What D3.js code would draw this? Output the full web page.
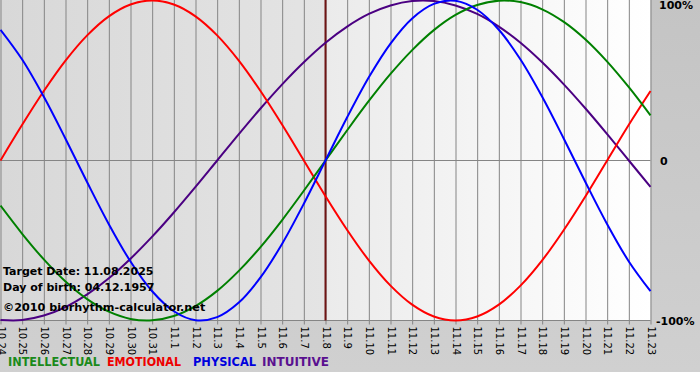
<!DOCTYPE html>
<html><head><meta charset="utf-8">
<script src="https://cdn.jsdelivr.net/npm/d3@7"></script>
<style>html,body{margin:0;padding:0;background:#fff;}svg{display:block;}</style>
</head><body>
<script>
const days = ["10.24","10.25","10.26","10.27","10.28","10.29","10.30","10.31","11.1","11.2","11.3","11.4","11.5","11.6","11.7","11.8","11.9","11.10","11.11","11.12","11.13","11.14","11.15","11.16","11.17","11.18","11.19","11.20","11.21","11.22","11.23"];
const targetDay = "11.8";
const physical = [0.817,0.631,0.398,0.136,-0.136,-0.398,-0.631,-0.817,-0.942,-0.998,-0.979,-0.888,-0.731,-0.520,-0.270,0,0.270,0.520,0.731,0.888,0.979,0.998,0.942,0.817,0.631,0.398,0.136,-0.136,-0.398,-0.631,-0.817];
const emotional = [0,0.223,0.434,0.624,0.782,0.901,0.975,1,0.975,0.901,0.782,0.624,0.434,0.223,0,-0.223,-0.434,-0.624,-0.782,-0.901,-0.975,-1,-0.975,-0.901,-0.782,-0.624,-0.434,-0.223,0,0.223,0.434];
const intellectual = [-0.282,-0.458,-0.618,-0.756,-0.866,-0.945,-0.990,-0.999,-0.972,-0.910,-0.815,-0.690,-0.541,-0.372,-0.189,0,0.189,0.372,0.541,0.690,0.815,0.910,0.972,0.999,0.990,0.945,0.866,0.756,0.618,0.458,0.282];
const intuitive = [-0.997,-0.997,-0.969,-0.916,-0.837,-0.736,-0.614,-0.476,-0.325,-0.165,0,0.165,0.325,0.476,0.614,0.736,0.837,0.916,0.969,0.997,0.997,0.969,0.916,0.837,0.736,0.614,0.476,0.325,0.165,0,-0.165];
const yTicks = [1, 0, -1];
const yTickLabels = ["100%", "0", "-100%"];
const seriesNames = ["INTELLECTUAL","EMOTIONAL","PHYSICAL","INTUITIVE"];
const infoLines = ["Target Date: 11.08.2025","Day of birth: 04.12.1957","\u00a92010 biorhythm-calculator.net"];

const W = 700, H = 380;
const svg = d3.select("body").append("svg").attr("width", W).attr("height", H);
const defs = svg.append("defs");
function grad(id, c1, c2, vertical) {
  const g = defs.append("linearGradient").attr("id", id)
    .attr("x1", 0).attr("y1", 0).attr("x2", vertical ? 0 : 1).attr("y2", vertical ? 1 : 0);
  g.append("stop").attr("offset", "0%").attr("stop-color", c1);
  g.append("stop").attr("offset", "100%").attr("stop-color", c2);
}
grad("bgOuter", "#c4c4c4", "#d0d0d0", true);
grad("bgPast", "#d8d8d8", "#e4e4e4", false);
grad("bgFuture", "#ebebeb", "#ffffff", false);

svg.append("rect").attr("x", 0).attr("y", 0).attr("width", W).attr("height", 372).attr("fill", "url(#bgOuter)");

const x = d3.scalePoint().domain(days).range([0.5, 650.5]);
const y = d3.scaleLinear().domain([-1, 1]).range([320.5, 0.5]);
const xt = x(targetDay);

svg.append("rect").attr("x", 0).attr("y", 0).attr("width", xt).attr("height", y(-1)).attr("fill", "url(#bgPast)");
svg.append("rect").attr("x", xt).attr("y", 0).attr("width", x(days[days.length-1]) - xt).attr("height", y(-1)).attr("fill", "url(#bgFuture)");

const xAxis = d3.axisBottom(x).tickSize(y(-1) + 4).tickSizeOuter(0);
const gx = svg.append("g").call(xAxis);
gx.select(".domain").remove();
gx.selectAll(".tick line").attr("stroke", "#858585").attr("stroke-width", 1);
gx.selectAll(".tick text")
  .attr("transform", "rotate(90)")
  .attr("x", y(-1) + 6).attr("y", 0).attr("dy", "0.35em")
  .attr("text-anchor", "start")
  .attr("font-family", "DejaVu Sans, Verdana, sans-serif")
  .attr("font-size", 10).attr("fill", "#000");

svg.append("line").attr("x1", 0).attr("x2", x(days[days.length-1])).attr("y1", y(0)).attr("y2", y(0)).attr("stroke", "#858585");
svg.append("line").attr("x1", 0).attr("x2", x(days[days.length-1])).attr("y1", y(-1)).attr("y2", y(-1)).attr("stroke", "#858585");

const yAxis = d3.axisRight(y).tickValues(yTicks).tickSize(0).tickFormat((d, i) => yTickLabels[i]);
const gy = svg.append("g").attr("transform", "translate(656,0)").call(yAxis);
gy.select(".domain").remove();
gy.selectAll(".tick text")
  .attr("x", (d) => d === 1 ? 3 : (d === 0 ? 4 : 0))
  .attr("dy", (d) => d === 1 ? "0.75em" : "0.35em")
  .attr("font-family", "DejaVu Sans, Verdana, sans-serif")
  .attr("font-weight", "bold").attr("font-size", 11).attr("fill", "#000");

svg.append("line").attr("x1", xt).attr("x2", xt).attr("y1", 0).attr("y2", y(-1)).attr("stroke", "#6e1414").attr("stroke-width", 2);

const colors = ["#008000", "#ff0000", "#0000ff", "#4b0082"];
const seriesData = [intellectual, emotional, physical, intuitive];
const line = d3.line().x((d, i) => x(days[i])).y(d => y(d)).curve(d3.curveCatmullRom);
[3, 1, 0, 2].forEach(k => {
  svg.append("path").datum(seriesData[k]).attr("d", line)
    .attr("fill", "none").attr("stroke", colors[k]).attr("stroke-width", 2);
});

const info = svg.append("g").attr("font-family", "DejaVu Sans, Verdana, sans-serif").attr("font-weight", "bold").attr("fill", "#000");
[[275, 11], [291, 11], [311, 11.2]].forEach((p, i) => {
  info.append("text").attr("x", 3).attr("y", p[0]).attr("font-size", p[1]).text(infoLines[i]);
});

const legColors = ["#1a8a1a", "#ee0000", "#0000dd", "#5a1090"];
const legX = [8, 107, 193, 262];
const legW = [92, 74, 63, 67];
seriesNames.forEach((n, i) => {
  svg.append("text").attr("x", legX[i]).attr("y", 366)
    .attr("font-family", "DejaVu Sans, Verdana, sans-serif").attr("font-weight", "bold").attr("font-size", 11.5)
    .attr("textLength", legW[i]).attr("lengthAdjust", "spacingAndGlyphs")
    .attr("fill", legColors[i]).text(n);
});
</script>
</body></html>
